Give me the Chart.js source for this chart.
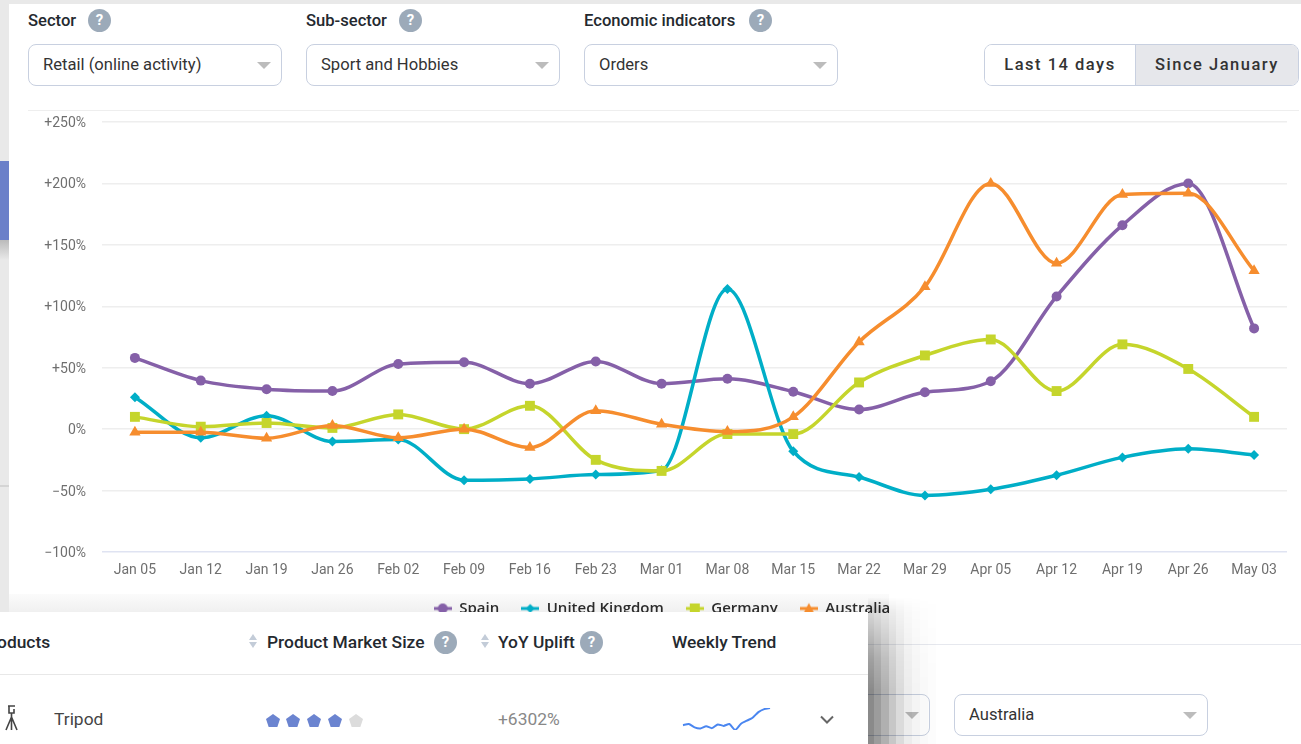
<!DOCTYPE html>
<html>
<head>
<meta charset="utf-8">
<title>Sport and Hobbies orders</title>
<script src="https://cdn.jsdelivr.net/npm/chart.js@4/dist/chart.umd.min.js"></script>
<style>
  html, body { margin: 0; padding: 0; background: #fff; }
  body { width: 1301px; height: 744px; position: relative; overflow: hidden; font-family: Roboto, sans-serif; color: #333; }
  .abs { position: absolute; }
  #strip { left: 0; top: 0; width: 9px; height: 612px; background: #e9e9e9; }
  #stripBlue { left: 0; top: 161px; width: 9px; height: 79px; background: #6b80c9; }
  #stripFade { left: 0; top: 240px; width: 9px; height: 20px; background: linear-gradient(#bbb, #e9e9e9); }
  #stripLine { left: 0; top: 485px; width: 9px; height: 2px; background: #d4d4d4; }
  #topBar { left: 0; top: 0; width: 1301px; height: 4px; background: #e9e9e9; }
  #sheet { left: 9px; top: 4px; width: 1292px; height: 608px; background: #fff; }
  #legendFade { left: 9px; top: 594px; width: 880px; height: 18px; background: linear-gradient(#fbfbfb, #f0f0f0); }
  .label { font-weight: 500; font-size: 16.6px; line-height: 20px; color: #24292f; white-space: nowrap; }
  #panel .label { font-size: 17.4px; }
  .help { width: 23px; height: 23px; border-radius: 50%; background: #9caab9; color: #fff; font-weight: 700; font-size: 15px; line-height: 23px; text-align: center; }
  .select { box-sizing: border-box; width: 254px; height: 42px; border: 1px solid #c8d0e0; border-radius: 8px; background: #fff; font-size: 16.6px; line-height: 40px; padding-left: 14px; }
  .select::after { content: ""; position: absolute; right: 10px; top: 17px; border-left: 7.5px solid transparent; border-right: 7.5px solid transparent; border-top: 7px solid #bcbcbc; }
  #toggle { left: 984px; top: 44px; width: 315px; height: 42px; box-sizing: border-box; border: 1px solid #c8d0e0; border-radius: 8px; overflow: hidden; display: flex; font-weight: 500; font-size: 16.5px; line-height: 40px; letter-spacing: 1.5px; text-align: center; color: #333; }
  #toggle div:first-child { width: 150px; background: #fff; border-right: 1px solid #c8d0e0; }
  #toggle div:last-child { flex: 1; background: #e6e7eb; }
  #rule { left: 28px; top: 110px; width: 1271px; height: 1px; background: #eee; }
  #chartBox { left: 0; top: 0; width: 1301px; height: 626px; }
  #lowerRule { left: 868px; top: 644px; width: 433px; height: 1px; background: #e6e8ee; }
  #panel { left: 0; top: 612px; width: 868px; height: 132px; background: #fff; overflow: hidden; }
  #panelRule { left: 0; top: 62px; width: 868px; height: 1px; background: #e8e8e8; }
  .sort { width: 0; height: 0; }
  .sort::before, .sort::after { content: ""; position: absolute; left: -4px; border-left: 4px solid transparent; border-right: 4px solid transparent; }
  .sort::before { top: -7px; border-bottom: 6px solid #c3ccd8; }
  .sort::after { top: 1px; border-top: 6px solid #c3ccd8; }
  .pent { width: 14px; height: 13px; background: #6b84d0; clip-path: polygon(50% 0, 100% 38%, 81% 100%, 19% 100%, 0 38%); }
  #shadow { left: 868px; top: 598px; width: 68px; height: 146px; pointer-events: none;
    background: linear-gradient(90deg,
      rgba(0,0,0,.46) 0 6px, rgba(0,0,0,.39) 6px 13px, rgba(0,0,0,.31) 13px 21px, rgba(0,0,0,.22) 21px 28px,
      rgba(0,0,0,.14) 28px 36px, rgba(0,0,0,.075) 36px 44px, rgba(0,0,0,.045) 44px 52px, rgba(0,0,0,.025) 52px 60px, rgba(0,0,0,.012) 60px 68px);
    -webkit-mask-image: linear-gradient(rgba(0,0,0,.02), rgba(0,0,0,.34) 14px, rgba(0,0,0,.5) 30px, rgba(0,0,0,.8) 60px, #000 92px); }
  #sparkBox { left: 676px; top: 90px; width: 100px; height: 30px; }
</style>
</head>
<body>
<div class="abs" id="strip"></div>
<div class="abs" id="stripBlue"></div>
<div class="abs" id="stripFade"></div>
<div class="abs" id="stripLine"></div>
<div class="abs" id="topBar"></div>
<div class="abs" id="sheet"></div>
<div class="abs" id="legendFade"></div>

<div class="abs label" style="left:28px;top:11px">Sector</div>
<div class="abs help" style="left:88px;top:9px">?</div>
<div class="abs label" style="left:306px;top:11px">Sub-sector</div>
<div class="abs help" style="left:399px;top:9px">?</div>
<div class="abs label" style="left:584px;top:11px">Economic indicators</div>
<div class="abs help" style="left:749px;top:9px">?</div>
<div class="abs select" style="left:28px;top:44px">Retail (online activity)</div>
<div class="abs select" style="left:306px;top:44px">Sport and Hobbies</div>
<div class="abs select" style="left:584px;top:44px">Orders</div>
<div class="abs" id="toggle"><div>Last 14 days</div><div>Since January</div></div>
<div class="abs" id="rule"></div>

<div class="abs" id="chartBox"><canvas id="myChart"></canvas></div>

<div class="abs" id="lowerRule"></div>
<div class="abs select" style="left:676px;top:694px"></div>
<div class="abs select" style="left:954px;top:694px">Australia</div>

<div class="abs" id="panel">
  <div class="abs label" style="left:-20px;top:20px">Products</div>
  <div class="abs sort" style="left:253px;top:29px"></div>
  <div class="abs label" style="left:267px;top:20px">Product Market Size</div>
  <div class="abs help" style="left:434px;top:19px">?</div>
  <div class="abs sort" style="left:485px;top:29px"></div>
  <div class="abs label" style="left:498px;top:20px">YoY Uplift</div>
  <div class="abs help" style="left:580px;top:19px">?</div>
  <div class="abs label" style="left:672px;top:20px">Weekly Trend</div>
  <div class="abs" id="panelRule"></div>
  <svg class="abs" style="left:2px;top:92px" width="20" height="28" viewBox="0 0 20 28" fill="none" stroke="#444" stroke-width="1.6">
    <path d="M6 2h7M7 2v7h5V5M9.500 9v5M9.500 13L4 26M9.500 13v13M9.500 13L15 26"/>
  </svg>
  <div class="abs" style="left:54px;top:97px;font-size:17.4px;line-height:20px;color:#444">Tripod</div>
  <div class="abs pent" style="left:266px;top:102px"></div>
  <div class="abs pent" style="left:286px;top:102px"></div>
  <div class="abs pent" style="left:307px;top:102px"></div>
  <div class="abs pent" style="left:328px;top:102px"></div>
  <div class="abs pent" style="left:349px;top:102px;background:#dcdcdc"></div>
  <div class="abs" style="left:498px;top:97px;font-size:17.4px;line-height:20px;color:#888">+6302%</div>
  <div class="abs" id="sparkBox"><canvas id="sparkChart"></canvas></div>
  <svg class="abs" style="left:819px;top:103px" width="16" height="10" viewBox="0 0 16 10" fill="none" stroke="#666" stroke-width="2"><path d="M2 1.500l6 6 6-6"/></svg>
</div>
<div class="abs" id="shadow"></div>

<script>
const weeks = ['Jan 05','Jan 12','Jan 19','Jan 26','Feb 02','Feb 09','Feb 16','Feb 23','Mar 01','Mar 08','Mar 15','Mar 22','Mar 29','Apr 05','Apr 12','Apr 19','Apr 26','May 03'];
const spain = [58, 39.5, 32.5, 31, 53, 54.5, 37, 55, 37, 41, 30.5, 16, 30, 39, 108, 166, 200, 82];
const unitedKingdom = [26, -7, 11, -10, -8.5, -41.5, -40.5, -37, -33.5, 114, -18, -39, -54, -49, -37.5, -23, -16, -21];
const germany = [10, 2, 5, 1, 12, 0, 19, -25, -34, -4, -4, 38, 60, 73, 31, 69, 49, 10];
const australia = [-2.5, -2.5, -7.5, 3, -7, 0, -15, 15, 4, -2, 10, 71, 116, 200, 135, 191, 192, 129];
const weeklyTrend = [20, 23, 14, 11, 17, 12, 22, 18, 23, 7, 24, 32, 40, 55, 63, 66];

// 범례용 작은 그림 (선 + 마커)
const makeSwatch = (color, shape) => {
  const c = document.createElement('canvas');
  c.width = 18; c.height = 14;
  const g = c.getContext('2d');
  g.fillStyle = color;
  g.fillRect(0, 5.5, 18, 3);
  g.beginPath();
  if (shape === 'circle') g.arc(9, 7, 5, 0, Math.PI * 2);
  if (shape === 'rectRot') { g.moveTo(9, 2.5); g.lineTo(13.5, 7); g.lineTo(9, 11.5); g.lineTo(4.5, 7); }
  if (shape === 'rect') g.rect(4, 2, 10, 10);
  if (shape === 'triangle') { g.moveTo(9, 1.5); g.lineTo(14, 11); g.lineTo(4, 11); }
  g.fill();
  return c;
};

const makeSeries = (label, data, color, shape, size, order) => ({
  label, data, order,
  borderColor: color,
  backgroundColor: color,
  borderWidth: 3.5,
  cubicInterpolationMode: 'monotone',
  pointStyle: shape,
  pointRadius: size,
  pointBorderWidth: 0,
  swatch: makeSwatch(color, shape)
});

new Chart(document.getElementById('myChart'), {
  type: 'line',
  data: {
    labels: weeks,
    datasets: [
      makeSeries('Spain', spain, '#8560a8', 'circle', 5, 4),
      makeSeries('United Kingdom', unitedKingdom, '#00aec7', 'rectRot', 5, 3),
      makeSeries('Germany', germany, '#c5d52c', 'rect', 7, 2),
      makeSeries('Australia', australia, '#f68d2e', 'triangle', 6.5, 1)
    ]
  },
  options: {
    responsive: true,
    maintainAspectRatio: false,
    animation: false,
    layout: { padding: { left: 37, right: 14, top: 122, bottom: 0 } },
    scales: {
      x: {
        offset: true,
        afterFit: scale => { scale.height = 27; },
        grid: { display: false },
        border: { display: false },
        ticks: { color: '#6f6f6f', font: { family: 'Roboto', size: 14 }, padding: 2, maxRotation: 0, autoSkip: false }
      },
      y: {
        min: -100,
        max: 250,
        afterFit: scale => { scale.width = 65; },
        border: { display: false },
        grid: {
          drawTicks: false,
          lineWidth: 1.500,
          color: ctx => (ctx.tick.value === -100 ? '#dfe3f2' : '#eeeeee')
        },
        ticks: {
          stepSize: 50,
          color: '#6f6f6f',
          padding: 16,
          labelOffset: 1.500,
          font: { family: 'Roboto', size: 14 },
          callback: v => (v > 0 ? '+' : v < 0 ? '\u2212' : '') + Math.abs(v) + '%'
        }
      }
    },
    plugins: {
      tooltip: { enabled: false },
      legend: {
        position: 'bottom',
        labels: {
          usePointStyle: true,
          pointStyleWidth: 18,
          boxHeight: 14,
          padding: 22,
          color: '#2b2b2b',
          font: { family: 'Open Sans', size: 15, weight: '600' },
          generateLabels: chart => chart.data.datasets.map((ds, i) => ({
            text: ds.label,
            datasetIndex: i,
            pointStyle: ds.swatch,
            fontColor: '#2b2b2b',
            lineWidth: 0
          }))
        }
      }
    }
  }
});

// 표 안의 작은 추세선
new Chart(document.getElementById('sparkChart'), {
  type: 'line',
  data: {
    labels: weeklyTrend.map((v, i) => i),
    datasets: [{ data: weeklyTrend, borderColor: '#4a86f0', borderWidth: 2, pointRadius: 0, tension: 0.2 }]
  },
  options: {
    responsive: true,
    maintainAspectRatio: false,
    animation: false,
    layout: { padding: { left: 7, right: 6, top: 6, bottom: 2 } },
    scales: { x: { display: false }, y: { display: false, min: 7, max: 66 } },
    plugins: { legend: { display: false }, tooltip: { enabled: false } }
  }
});
</script>
</body>
</html>
